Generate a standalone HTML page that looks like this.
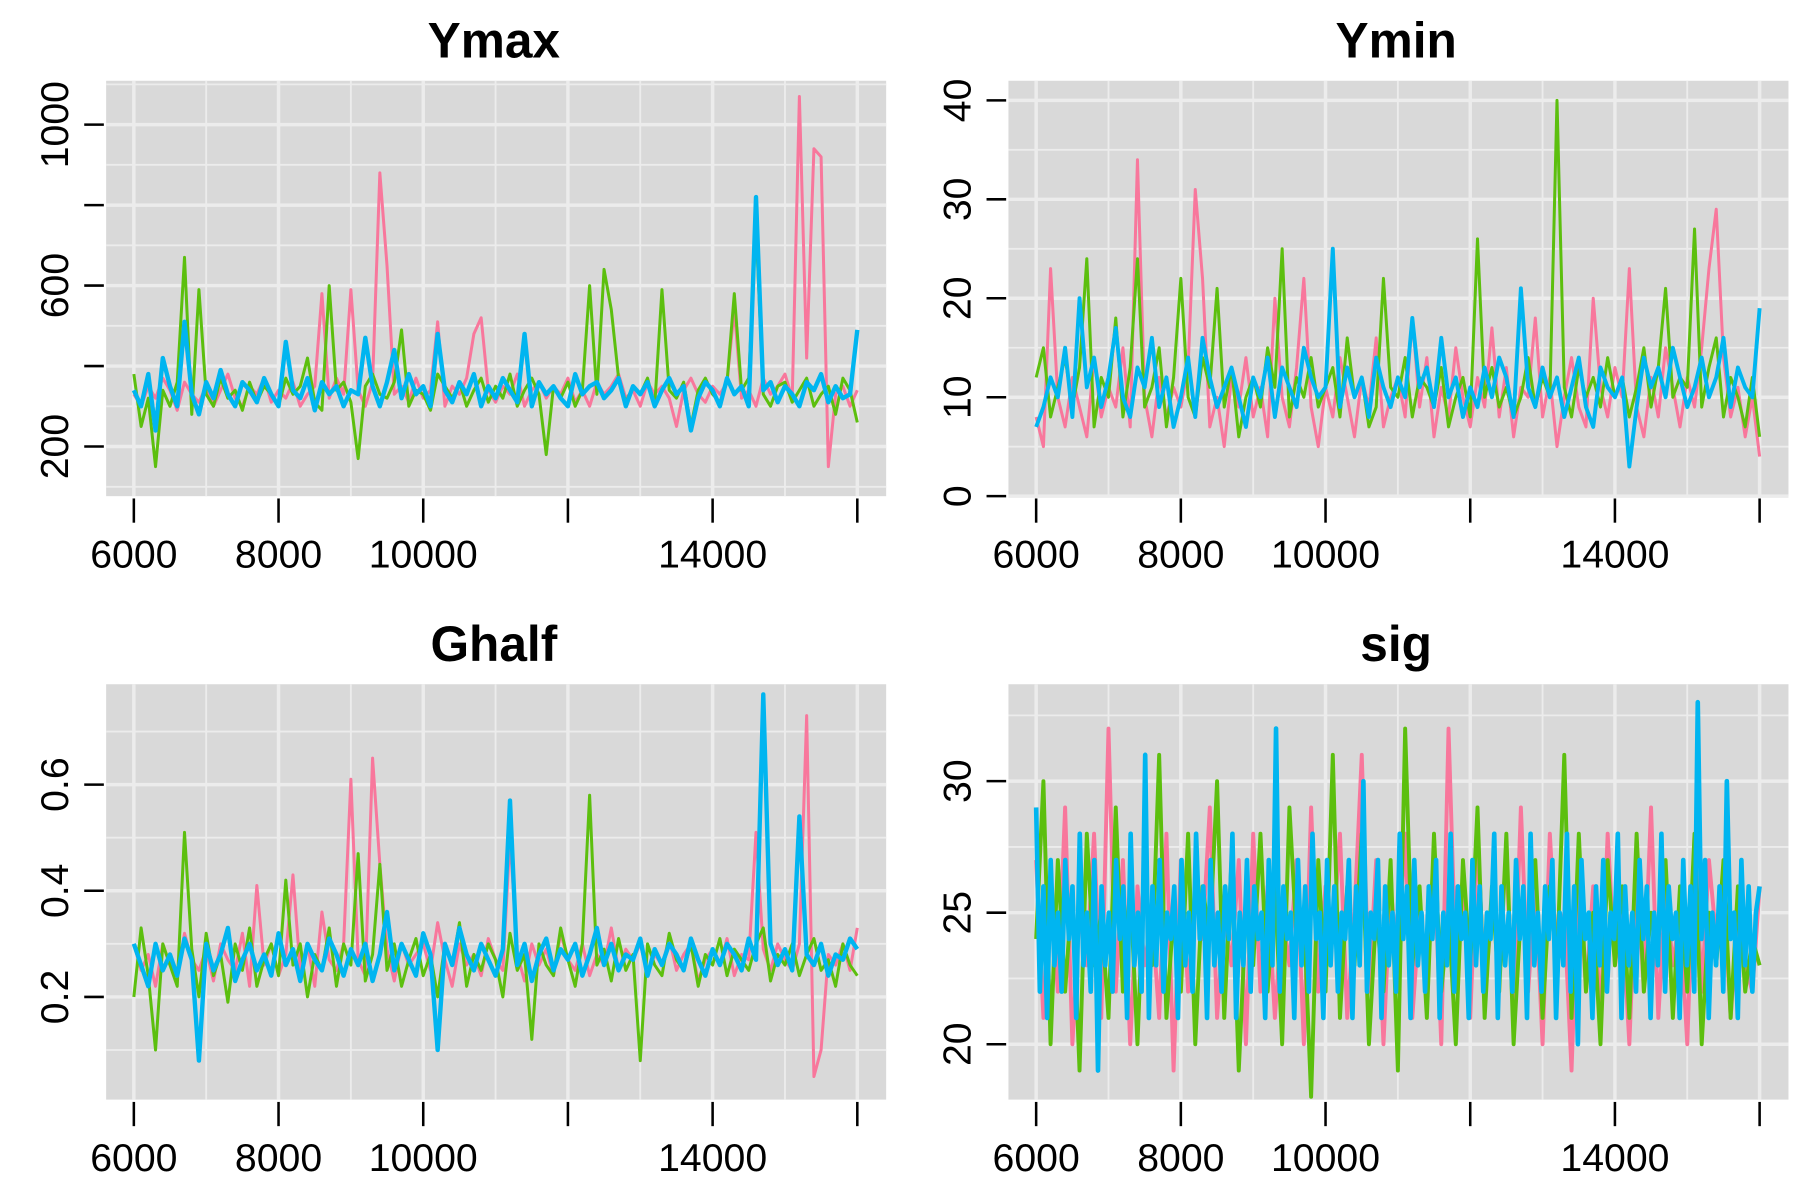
<!DOCTYPE html>
<html><head><meta charset="utf-8"><style>
html,body{margin:0;padding:0;background:#fff;}
svg{display:block;font-family:"Liberation Sans",sans-serif;}
</style></head><body>
<svg id="fig" width="1800" height="1200" viewBox="0 0 1560 1040" preserveAspectRatio="none" xmlns="http://www.w3.org/2000/svg"></svg>
<script>
const iterTicks=[6000,8000,10000,12000,14000,16000];
const iterLabels=["6000","8000","10000","","14000",""];
const seriesColors=["#f8779c","#5cbf0e","#00b5f0"];

const ymaxPink=[330,300,350,320,370,340,290,360,330,310,350,300,340,380,320,300,350,330,370,310,340,320,360,300,330,350,580,320,370,330,590,340,300,360,880,650,330,350,310,370,320,340,510,300,350,330,370,480,520,340,310,350,330,380,300,340,360,320,350,330,370,310,340,300,360,330,350,380,320,340,300,360,330,350,320,250,340,370,330,310,350,330,360,540,320,340,300,370,330,350,380,320,1070,420,940,920,150,330,350,300,340];
const ymaxGreen=[380,250,320,150,340,300,360,670,280,590,330,300,370,320,340,290,360,310,350,330,300,370,330,350,420,310,290,600,340,360,310,170,350,380,330,320,360,490,300,340,330,290,380,350,320,360,300,340,370,310,350,320,380,300,340,370,330,180,350,320,360,300,340,600,330,640,540,370,310,350,330,370,300,590,340,320,360,250,340,370,330,310,360,580,340,370,750,330,300,350,360,310,340,370,300,330,350,280,370,340,260];
const ymaxBlue=[340,300,380,240,420,350,300,510,330,280,360,320,390,330,300,360,340,310,370,330,300,460,340,320,370,290,360,330,350,300,340,330,470,350,300,360,440,320,380,330,350,300,480,340,310,360,330,380,300,350,320,370,340,310,480,300,360,330,350,320,300,380,330,350,360,320,340,370,300,350,330,360,300,340,370,330,350,240,320,360,340,300,370,330,350,300,820,340,360,310,350,330,300,360,340,380,310,350,320,330,490];

const yminPink=[8,5,23,10,7,12,9,6,14,8,11,9,15,7,34,10,6,12,8,11,9,13,31,22,7,10,5,12,9,14,8,11,6,20,10,7,13,22,9,5,11,8,14,10,6,12,9,16,7,10,12,8,18,9,14,6,11,8,15,10,7,12,9,17,8,13,6,11,10,18,8,12,5,10,14,9,7,20,11,8,13,10,23,9,6,12,8,15,11,7,12,9,15,23,29,14,8,11,6,10,4];
const yminGreen=[12,15,8,11,14,9,13,24,7,12,10,18,8,13,24,9,11,15,7,12,22,10,8,14,11,21,9,13,6,10,12,9,15,11,25,8,12,10,14,9,11,13,8,16,10,12,7,9,22,11,10,14,8,12,11,9,13,7,10,12,8,26,10,13,9,11,8,10,14,9,12,10,40,11,8,13,10,12,9,14,10,12,8,11,15,9,13,21,10,12,11,27,9,13,16,8,12,10,7,12,6];
const yminBlue=[7,9,12,10,15,8,20,11,14,9,12,17,10,8,13,11,16,9,12,7,10,14,8,16,12,9,11,13,10,7,12,10,14,8,13,11,9,15,12,10,11,25,9,13,10,12,8,14,11,9,12,10,18,11,13,9,16,10,12,8,11,9,13,10,14,12,8,21,11,9,13,10,12,8,11,14,9,7,13,11,10,12,3,9,14,11,13,10,15,12,9,11,14,10,12,16,9,13,11,10,19];

const ghalfPink=[0.3,0.25,0.28,0.22,0.3,0.26,0.24,0.32,0.27,0.25,0.29,0.23,0.3,0.27,0.25,0.32,0.22,0.41,0.26,0.3,0.24,0.28,0.43,0.25,0.3,0.22,0.36,0.27,0.25,0.3,0.61,0.27,0.24,0.65,0.45,0.29,0.23,0.3,0.26,0.28,0.3,0.25,0.34,0.27,0.22,0.3,0.26,0.28,0.24,0.31,0.27,0.25,0.5,0.28,0.23,0.3,0.26,0.29,0.24,0.32,0.27,0.25,0.3,0.24,0.28,0.26,0.33,0.25,0.29,0.27,0.3,0.24,0.28,0.26,0.31,0.25,0.28,0.3,0.23,0.27,0.29,0.26,0.31,0.24,0.28,0.27,0.51,0.29,0.25,0.3,0.27,0.25,0.3,0.73,0.05,0.1,0.28,0.26,0.3,0.25,0.33];
const ghalfGreen=[0.2,0.33,0.24,0.1,0.3,0.26,0.22,0.51,0.29,0.2,0.32,0.24,0.28,0.19,0.3,0.25,0.33,0.22,0.27,0.3,0.24,0.42,0.26,0.3,0.2,0.28,0.25,0.33,0.22,0.3,0.26,0.47,0.23,0.28,0.45,0.25,0.3,0.22,0.27,0.31,0.24,0.28,0.2,0.3,0.26,0.34,0.22,0.28,0.25,0.3,0.27,0.2,0.32,0.25,0.28,0.12,0.3,0.26,0.24,0.33,0.27,0.22,0.3,0.58,0.26,0.29,0.23,0.31,0.25,0.28,0.08,0.3,0.26,0.24,0.32,0.27,0.25,0.3,0.22,0.28,0.26,0.31,0.24,0.29,0.27,0.25,0.3,0.33,0.23,0.28,0.26,0.3,0.24,0.28,0.31,0.25,0.27,0.22,0.3,0.26,0.24];
const ghalfBlue=[0.3,0.26,0.22,0.3,0.25,0.28,0.24,0.31,0.27,0.08,0.3,0.25,0.28,0.33,0.23,0.27,0.3,0.25,0.28,0.24,0.32,0.26,0.29,0.23,0.3,0.27,0.25,0.31,0.28,0.24,0.29,0.26,0.3,0.23,0.28,0.36,0.25,0.3,0.27,0.24,0.32,0.28,0.1,0.3,0.26,0.33,0.28,0.25,0.3,0.27,0.24,0.29,0.57,0.26,0.3,0.23,0.28,0.31,0.25,0.29,0.27,0.3,0.24,0.28,0.33,0.26,0.3,0.25,0.28,0.27,0.31,0.24,0.29,0.26,0.3,0.28,0.25,0.31,0.27,0.24,0.29,0.26,0.3,0.28,0.25,0.31,0.27,0.77,0.3,0.26,0.29,0.25,0.54,0.28,0.26,0.3,0.24,0.28,0.27,0.31,0.29];

const sigPink=[27,21,26,22,29,20,25,23,28,21,32,22,27,20,26,23,25,21,28,19,27,22,26,24,29,21,25,23,27,20,28,22,26,21,25,23,27,20,29,22,26,24,28,21,25,31,22,27,20,26,23,28,21,25,22,27,20,32,23,26,21,28,22,25,24,27,21,29,22,26,20,28,23,25,19,27,22,26,21,28,23,25,20,27,22,29,21,26,23,25,20,28,22,27,24,26,21,25,23,22,26];
const sigGreen=[24,30,20,27,22,26,19,28,23,25,21,29,22,26,20,27,23,31,21,25,22,28,20,26,24,30,21,27,19,25,23,28,22,26,20,29,24,25,18,27,22,31,21,26,23,28,20,25,22,27,19,32,23,26,21,28,22,25,20,27,23,29,21,26,22,28,20,25,24,27,21,26,23,31,21,28,22,25,20,27,23,26,21,28,22,25,24,27,21,26,22,28,20,25,23,27,21,26,22,24,23];
const sigBlue=[29,22,26,21,27,23,25,22,27,24,26,21,28,23,25,22,27,19,26,23,25,22,27,24,26,21,28,23,25,22,31,21,26,23,27,22,25,24,26,21,27,23,25,22,28,24,26,21,27,23,25,22,26,24,28,21,25,23,27,22,26,24,25,21,27,23,32,22,26,24,25,21,27,23,26,22,28,24,25,21,27,23,26,22,25,24,27,21,26,23,30,22,25,24,27,21,26,23,25,22,28,24,26,21,27,23,25,22,26,24,27,21,25,23,28,22,26,24,25,21,27,23,26,22,25,24,28,21,26,23,25,22,27,24,26,21,28,23,25,22,26,24,27,21,25,23,28,22,26,20,27,24,25,21,26,23,27,22,25,24,28,21,26,23,25,22,27,24,26,21,25,23,28,22,26,24,25,21,27,23,26,22,33,24,27,21,25,23,26,22,30,24,25,21,27,23,26,22,25,26];

const ymaxTicks=[200,400,600,800,1000], ymaxTickLabels=["200","","600","","1000"];
const yminTicks=[0,10,20,30,40], yminTickLabels=["0","10","20","30","40"];
const ghalfTicks=[0.2,0.4,0.6], ghalfTickLabels=["0.2","0.4","0.6"];
const sigTicks=[20,25,30], sigTickLabels=["20","25","30"];

const NS="http://www.w3.org/2000/svg";
const svg=document.getElementById('fig');
function mk(tag,attrs,parent){const e=document.createElementNS(NS,tag);for(const k in attrs)e.setAttribute(k,attrs[k]);(parent||svg).appendChild(e);return e;}

function panel(cfg){
  const g=mk('g',{});
  
  
  const L=cfg.L,R=cfg.L+676,T=cfg.T,B=cfg.T+360;
  const x0=cfg.L+24,x1=cfg.L+651;
  const xs=v=>x0+(v-6000)/10000*(x1-x0);
  const ys=v=>cfg.ya+(v-cfg.va)/(cfg.vb-cfg.va)*(cfg.yb-cfg.ya);
  const bg=mk('rect',{x:L,y:T,width:676,height:360,fill:'#d9d9d9'},g);
  
  
  for(let v=5000;v<=17000;v+=1000){const x=xs(v);if(x<L||x>R)continue;
    mk('line',{x1:x,x2:x,y1:T,y2:B,stroke:'#ececec','stroke-width':v%2000===0?3:1.6},g);}
  const step=cfg.ticks[1]-cfg.ticks[0];
  for(let k=-4;k<=cfg.ticks.length*2+4;k++){const v=cfg.ticks[0]+(k/2)*step;const y=ys(v);if(y<T||y>B)continue;
    mk('line',{x1:L,x2:R,y1:y,y2:y,stroke:'#ececec','stroke-width':k%2===0?3:1.6},g);}
  const names=['chain-1','chain-2','chain-3'];
  cfg.series.forEach((arr,si)=>{
    const n=arr.length;
    const pts=arr.map((v,i)=>xs(6000+i*10000/(n-1)).toFixed(1)+','+ys(v).toFixed(1)).join(' ');
    const w=(cfg.sw||2.6)+(si===2?(cfg.swBlue||0):0);
    const p=mk('polyline',{points:pts,fill:'none',stroke:seriesColors[si],'stroke-width':w,'stroke-linejoin':'round'},g);
    
    
  });
  const t=mk('text',{x:(L+R)/2-2,y:T-20,'text-anchor':'middle','font-size':43,'font-weight':'bold'},g);
  t.textContent=cfg.title;
  
  
  iterTicks.forEach((v,i)=>{const x=xs(v);
    mk('line',{x1:x,x2:x,y1:B+2,y2:B+23,stroke:'#000','stroke-width':2.2},g);
    if(iterLabels[i]){const tl=mk('text',{x:x,y:B+62,'text-anchor':'middle','font-size':34},g);tl.textContent=iterLabels[i];
      
      }
  });
  cfg.ticks.forEach((v,i)=>{const y=ys(v);
    mk('line',{x1:L-19,x2:L-2,y1:y,y2:y,stroke:'#000','stroke-width':2.2},g);
    if(cfg.tickLabels[i]){const tl=mk('text',{x:L-45,y:y,'text-anchor':'middle','font-size':34,transform:`rotate(-90 ${L-45} ${y})`,dy:'0.35em'},g);tl.textContent=cfg.tickLabels[i];
      
      }
  });
}
panel({name:'ymax',title:'Ymax',L:92,T:70,va:200,ya:387,vb:1000,yb:108,ticks:ymaxTicks,tickLabels:ymaxTickLabels,series:[ymaxPink,ymaxGreen,ymaxBlue],sw:2.6,swBlue:1.2});
panel({name:'ymin',title:'Ymin',L:874,T:70,va:0,ya:430,vb:40,yb:87,ticks:yminTicks,tickLabels:yminTickLabels,series:[yminPink,yminGreen,yminBlue],sw:2.6,swBlue:0.8});
panel({name:'ghalf',title:'Ghalf',L:92,T:593,va:0.2,ya:864,vb:0.6,yb:680,ticks:ghalfTicks,tickLabels:ghalfTickLabels,series:[ghalfPink,ghalfGreen,ghalfBlue],sw:2.6,swBlue:1.2});
panel({name:'sig',title:'sig',L:874,T:593,va:20,ya:905,vb:30,yb:677,ticks:sigTicks,tickLabels:sigTickLabels,series:[sigPink,sigGreen,sigBlue],sw:3.4,swBlue:0.6});
</script>
</body></html>
